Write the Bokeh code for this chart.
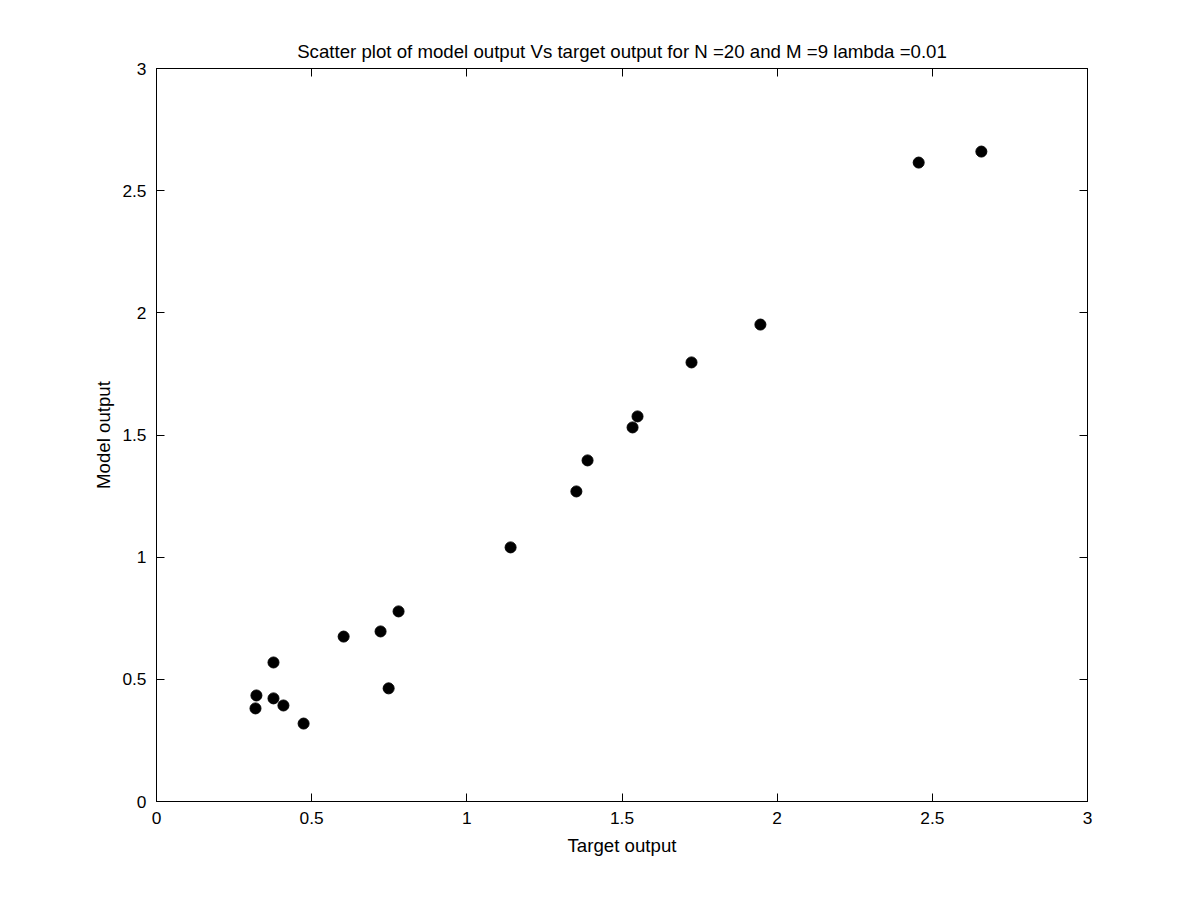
from bokeh.plotting import figure
from bokeh.models import LinearAxis, Range1d, FixedTicker
from bokeh.embed import file_html
from bokeh.resources import INLINE

target = [2.456, 2.658, 1.946, 1.724, 1.550, 1.534, 1.389, 1.353, 1.141, 0.780,
          0.722, 0.603, 0.748, 0.377, 0.322, 0.377, 0.409, 0.319, 0.474]
model = [2.615, 2.660, 1.952, 1.797, 1.576, 1.531, 1.396, 1.269, 1.040, 0.778,
         0.696, 0.675, 0.463, 0.569, 0.434, 0.422, 0.393, 0.381, 0.319]
ticks = [0, 0.5, 1, 1.5, 2, 2.5, 3]

W, H = 1184, 885
p = figure(width=W, height=H, output_backend="svg", toolbar_location=None,
           x_range=Range1d(0, 3), y_range=Range1d(0, 3),
           min_border_left=156, min_border_right=97, min_border_top=68, min_border_bottom=84)
p.title.text = "Scatter plot of model output Vs target output for N =20 and M =9 lambda =0.01"
p.title.align = "center"
p.title.text_font = "Liberation Sans"
p.title.text_font_size = "14pt"
p.title.text_font_style = "normal"
p.title.text_color = "black"
p.title.offset = 0
p.title.standoff = 14
p.grid.visible = False
p.outline_line_color = "black"
p.outline_line_width = 1
p.background_fill_color = "white"
p.border_fill_color = "white"

for ax in [p.xaxis[0], p.yaxis[0]]:
    ax.ticker = FixedTicker(ticks=ticks)
    ax.major_tick_in = 8
    ax.major_tick_out = 0
    ax.minor_tick_line_color = None
    ax.major_label_text_font = "Liberation Sans"
    ax.major_label_text_font_size = "13pt"
    ax.major_label_text_color = "black"
    ax.axis_label_text_font = "Liberation Sans"
    ax.axis_label_text_font_size = "14pt"
    ax.axis_label_text_font_style = "normal"
    ax.axis_label_text_color = "black"
    ax.axis_line_color = "black"
p.xaxis.axis_label = "Target output"
p.yaxis.axis_label = "Model output"
p.xaxis.major_label_standoff = 10
p.xaxis.axis_label_standoff = 8
p.yaxis.major_label_standoff = 10

for loc in ["above", "right"]:
    a = LinearAxis(ticker=FixedTicker(ticks=ticks), major_tick_in=8, major_tick_out=0,
                   minor_tick_line_color=None,
                   major_label_overrides={t: "" for t in ticks},
                   axis_line_color="black")
    p.add_layout(a, loc)

p.scatter(target, model, size=11, color="black")

open("out.html", "w").write(file_html(p, INLINE))
